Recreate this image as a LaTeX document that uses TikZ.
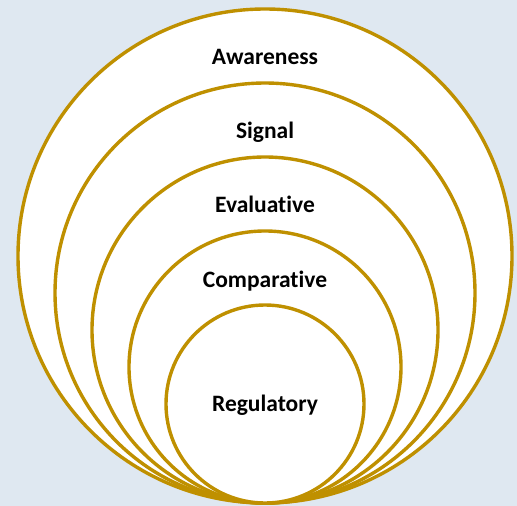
\documentclass[tikz,border=0pt]{standalone}
\usepackage{fontspec}
\setmainfont[Ligatures={NoCommon}]{Carlito}
\definecolor{bgc}{RGB}{223,232,241}
\definecolor{goldc}{RGB}{191,144,0}
\begin{document}
\begin{tikzpicture}[x=1pt,y=-1pt,
  ring/.style={circle,draw=goldc,line width=3.4pt,fill=white,inner sep=0pt,outer sep=0pt,minimum size=#1},
  lbl/.style={anchor=base,font=\fontsize{23.5}{27}\selectfont\bfseries,text=black,inner sep=0pt}]
\fill[bgc] (0,0) rectangle (517,506);
\useasboundingbox (0,0) rectangle (517,506);
\node[ring=494pt] (c1) at (265,256) {};
\node[ring=420pt] (c2) at (265,293) {};
\node[ring=346pt] (c3) at (265,330) {};
\node[ring=272pt] (c4) at (265,367) {};
\node[ring=198pt] (c5) at (265,404) {};
\node[lbl] (t1) at (265,64) {Awareness};
\node[lbl] (t2) at (265,138) {Signal};
\node[lbl] (t3) at (265,212) {Evaluative};
\node[lbl] (t4) at (265,287) {Comparative};
\node[lbl] (t5) at (265,411) {Regulatory};
\end{tikzpicture}
\end{document}
